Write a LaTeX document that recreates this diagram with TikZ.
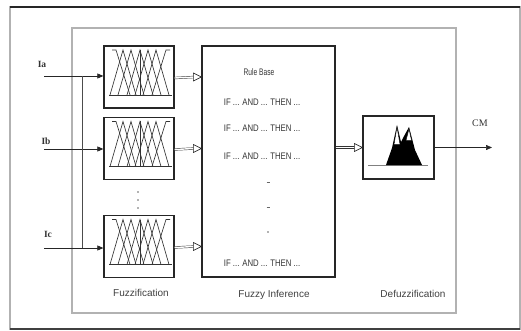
\documentclass[tikz,border=0pt]{standalone}
\usepackage{fontspec}
\setmainfont{Liberation Serif}
\setsansfont{Liberation Sans}
\usetikzlibrary{arrows.meta,calc}
\begin{document}
\begin{tikzpicture}[x=1pt,y=-1pt,
  box/.style={draw=black!85, line width=1.3pt, minimum width=70pt, minimum height=62pt, inner sep=0pt},
  lbl/.style={font=\sffamily\fontsize{10}{12}\selectfont, text=black!75, inner sep=0pt},
  rulebase/.style={font=\sffamily\fontsize{9.5}{11}\selectfont, xscale=0.7, text=black!80, inner sep=0pt},
  ruletxt/.style={font=\sffamily\fontsize{9.5}{11}\selectfont, xscale=0.82, text=black!80, inner sep=0pt},
  inlbl/.style={font=\fontsize{9.5}{11}\selectfont\bfseries, text=black!80, inner sep=0pt},
  feed/.style={-{Triangle[length=6pt,width=5pt]}, line width=0.6pt, draw=black!85},
  mfline/.style={black!80, line width=0.65pt},
  mfs/.pic={
    \draw[mfline] (-30,18) -- (33,18);
    \draw[mfline] (-27,-27) -- (-23,-27) -- (-9,18);
    \draw[mfline] (31,-27) -- (27,-27) -- (13,18);
    \foreach \c in {-16,-8,1,9,17}{
      \draw[mfline] (\c-13,18) -- (\c,-27) -- (\c+13,18);
    }
    \draw[mfline] (1,-27) -- (1,18);
  },
  defz/.pic={
    \draw[black!50, line width=0.6pt] (-30.5,17.5) -- (29.5,17.5);
    \fill[black] (-12.5,17.5) -- (-6.5,0.5) -- (-1.5,-22.5) -- (2.5,-5.5) -- (4.5,-9.5)
       -- (10.5,-20.5) -- (16.5,2.5) -- (23.5,17.5) -- cycle;
    \draw[black, fill=white, line width=0.4pt] (-1.5,-20.5) -- (-4.5,-3) -- (1.5,-3) -- cycle;
    \draw[black, fill=white, line width=0.4pt] (10.5,-18.5) -- (7.5,-7) -- (13,-7) -- cycle;
  }
]
\useasboundingbox (0,0) rectangle (521,331);

% frames
\draw[gray!60, line width=1.2pt] (10,7) rectangle (520,329);
\draw[black!85, line width=1.6pt] (10,7) -- (520,7);
\draw[black!75, line width=1.4pt] (10,329) -- (520,329);
\draw[gray!60, line width=1.2pt] (72,28) rectangle (456,313);

% blocks
\node[box] (f1) at (139,77) {};
\node[box] (f2) at (139,148.5) {};
\node[box] (f3) at (139,246.5) {};
\node[box, minimum width=133pt, minimum height=231pt] (inf) at (268.5,161.5) {};
\node[box, minimum width=71pt, minimum height=63pt] (dfz) at (398.5,147.5) {};

\pic at (f1) {mfs};
\pic at (f2) {mfs};
\pic at (f3) {mfs};
\pic at (dfz) {defz};

% dots between fuzzifiers
\foreach \y in {192,200,208}{
  \fill[black!60] (138,\y) circle (0.8pt);
}

% inputs
\coordinate (ia) at (44,76);
\coordinate (ib) at (44,149);
\coordinate (ic) at (44,248);
\coordinate (busx) at (82,0);
\draw[feed] (ia) -- (ia -| f1.west);
\draw[feed] (ib) -- (ib -| f2.west);
\draw[feed] (ic) -- (ic -| f3.west);
\draw[line width=0.6pt, black!70] (ia -| busx) -- (ic -| busx);
\node[inlbl] (la) at (42,64) {Ia};
\node[inlbl] (lb) at (46,141) {Ib};
\node[inlbl] (lc) at (48,234) {Ic};

% hollow arrows
\foreach \s/\t in {f1/inf, f2/inf, f3/inf}{
  \coordinate (tip) at (\s.east -| \t.west);
  \draw[black!80, line width=0.45pt, double distance=1.4pt] ([yshift=-1pt]\s.east) -- ($(tip)+(-7,0)$);
  \draw[black!85, line width=0.6pt, fill=white] (tip) -- ++(-8,-4) -- ++(0,8) -- cycle;
}
\coordinate (dtip) at (dfz.west);
\draw[black!80, line width=0.45pt, double distance=1.4pt] (dfz.west -| inf.east) -- ($(dtip)+(-7,0)$);
\draw[black!85, line width=0.6pt, fill=white] (dtip) -- ++(-8,-4) -- ++(0,8) -- cycle;

% output
\coordinate (out) at (492,147.5);
\draw[feed] (dfz.east) -- (out);
\node[inlbl, font=\fontsize{10}{12}\selectfont] (cm) at (480,123) {CM};

% rule base text
\node[rulebase] (rb) at (259,72) {Rule Base};
\node[ruletxt] (r1) at (262,102) {IF ... AND ... THEN ...};
\node[ruletxt] (r2) at (262,128) {IF ... AND ... THEN ...};
\node[ruletxt] (r3) at (262,156) {IF ... AND ... THEN ...};
\node[ruletxt] (r4) at (262,263) {IF ... AND ... THEN ...};
\draw[black!60, line width=0.6pt] (266.5,182) -- (269.5,182);
\draw[black!60, line width=0.6pt] (266.5,207) -- (269.5,207);
\fill[black!60] (268,232) circle (0.8pt);

% labels
\node[lbl] (lf) at (141,293) {Fuzzification};
\node[lbl] (li) at (274,295) {Fuzzy Inference};
\node[lbl] (ld) at (413,294) {Defuzzification};
\end{tikzpicture}
\end{document}
